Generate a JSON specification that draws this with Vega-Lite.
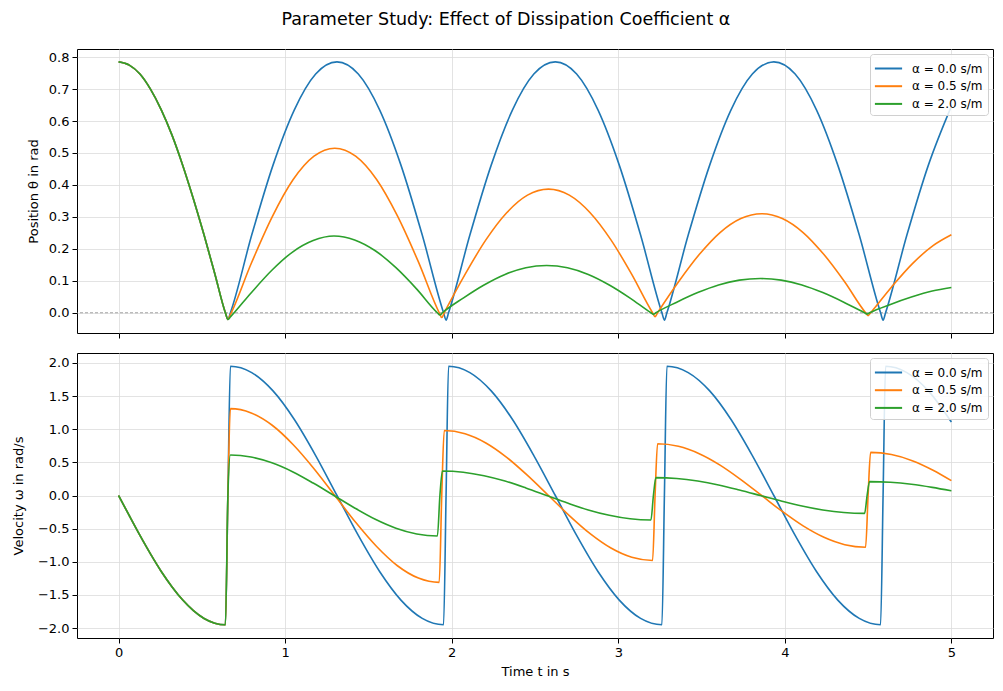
{
  "$schema": "https://vega.github.io/schema/vega-lite/v6.json",
  "title": {"text": "Parameter Study: Effect of Dissipation Coefficient α", "dx": 3},
  "padding": {"left": 11, "top": 11, "right": 6, "bottom": 6},
  "data": {"values": [
    {"a":"0.0","t":0,"th":0.785,"w":0},{"a":"0.0","t":0.064,"th":0.775,"w":-0.305},{"a":"0.0","t":0.128,"th":0.747,"w":-0.603},{"a":"0.0","t":0.192,"th":0.699,"w":-0.885},{"a":"0.0","t":0.256,"th":0.635,"w":-1.146},{"a":"0.0","t":0.321,"th":0.555,"w":-1.379},{"a":"0.0","t":0.385,"th":0.461,"w":-1.578},{"a":"0.0","t":0.449,"th":0.356,"w":-1.737},{"a":"0.0","t":0.513,"th":0.243,"w":-1.855},{"a":"0.0","t":0.577,"th":0.123,"w":-1.926},{"a":"0.0","t":0.641,"th":0,"w":-1.95},{"a":"0.0","t":0.656,"th":-0.021,"w":0},
    {"a":"0.0","t":0.671,"th":0,"w":1.95},{"a":"0.0","t":0.799,"th":0.243,"w":1.854},{"a":"0.0","t":0.927,"th":0.462,"w":1.578},{"a":"0.0","t":1.055,"th":0.635,"w":1.147},{"a":"0.0","t":1.183,"th":0.747,"w":0.603},{"a":"0.0","t":1.311,"th":0.785,"w":0},{"a":"0.0","t":1.439,"th":0.747,"w":-0.603},{"a":"0.0","t":1.567,"th":0.635,"w":-1.147},{"a":"0.0","t":1.695,"th":0.462,"w":-1.578},{"a":"0.0","t":1.823,"th":0.243,"w":-1.854},{"a":"0.0","t":1.951,"th":0,"w":-1.95},{"a":"0.0","t":1.966,"th":-0.023,"w":0},
    {"a":"0.0","t":1.981,"th":0,"w":1.95},{"a":"0.0","t":2.109,"th":0.243,"w":1.854},{"a":"0.0","t":2.237,"th":0.462,"w":1.578},{"a":"0.0","t":2.365,"th":0.635,"w":1.147},{"a":"0.0","t":2.493,"th":0.747,"w":0.603},{"a":"0.0","t":2.622,"th":0.785,"w":0},{"a":"0.0","t":2.75,"th":0.747,"w":-0.603},{"a":"0.0","t":2.878,"th":0.635,"w":-1.147},{"a":"0.0","t":3.006,"th":0.462,"w":-1.578},{"a":"0.0","t":3.134,"th":0.243,"w":-1.854},{"a":"0.0","t":3.262,"th":0,"w":-1.95},{"a":"0.0","t":3.277,"th":-0.023,"w":0},
    {"a":"0.0","t":3.292,"th":0,"w":1.95},{"a":"0.0","t":3.42,"th":0.243,"w":1.854},{"a":"0.0","t":3.549,"th":0.462,"w":1.578},{"a":"0.0","t":3.677,"th":0.635,"w":1.147},{"a":"0.0","t":3.805,"th":0.747,"w":0.603},{"a":"0.0","t":3.934,"th":0.785,"w":0},{"a":"0.0","t":4.062,"th":0.747,"w":-0.603},{"a":"0.0","t":4.19,"th":0.635,"w":-1.147},{"a":"0.0","t":4.318,"th":0.462,"w":-1.578},{"a":"0.0","t":4.447,"th":0.243,"w":-1.854},{"a":"0.0","t":4.575,"th":0,"w":-1.95},{"a":"0.0","t":4.59,"th":-0.023,"w":0},
    {"a":"0.0","t":4.605,"th":0,"w":1.95},{"a":"0.0","t":4.733,"th":0.243,"w":1.854},{"a":"0.0","t":4.862,"th":0.462,"w":1.578},{"a":"0.0","t":5.0,"th":0.646,"w":1.108},

    {"a":"0.5","t":0,"th":0.785,"w":0},{"a":"0.5","t":0.064,"th":0.775,"w":-0.305},{"a":"0.5","t":0.128,"th":0.747,"w":-0.603},{"a":"0.5","t":0.192,"th":0.699,"w":-0.885},{"a":"0.5","t":0.256,"th":0.635,"w":-1.146},{"a":"0.5","t":0.321,"th":0.555,"w":-1.379},{"a":"0.5","t":0.385,"th":0.461,"w":-1.578},{"a":"0.5","t":0.449,"th":0.356,"w":-1.737},{"a":"0.5","t":0.513,"th":0.243,"w":-1.855},{"a":"0.5","t":0.577,"th":0.123,"w":-1.926},{"a":"0.5","t":0.641,"th":0,"w":-1.95},{"a":"0.5","t":0.656,"th":-0.021,"w":0},
    {"a":"0.5","t":0.671,"th":-0.006,"w":1.31},{"a":"0.5","t":0.796,"th":0.154,"w":1.246},{"a":"0.5","t":0.922,"th":0.3,"w":1.06},{"a":"0.5","t":1.047,"th":0.416,"w":0.77},{"a":"0.5","t":1.173,"th":0.49,"w":0.405},{"a":"0.5","t":1.298,"th":0.515,"w":0},{"a":"0.5","t":1.423,"th":0.49,"w":-0.405},{"a":"0.5","t":1.549,"th":0.417,"w":-0.77},{"a":"0.5","t":1.674,"th":0.303,"w":-1.06},{"a":"0.5","t":1.8,"th":0.159,"w":-1.246},{"a":"0.5","t":1.925,"th":0,"w":-1.31},{"a":"0.5","t":1.94,"th":-0.015,"w":0},
    {"a":"0.5","t":1.955,"th":0,"w":0.98},{"a":"0.5","t":2.08,"th":0.12,"w":0.932},{"a":"0.5","t":2.205,"th":0.228,"w":0.793},{"a":"0.5","t":2.33,"th":0.313,"w":0.576},{"a":"0.5","t":2.455,"th":0.368,"w":0.303},{"a":"0.5","t":2.581,"th":0.387,"w":0},{"a":"0.5","t":2.706,"th":0.368,"w":-0.303},{"a":"0.5","t":2.831,"th":0.313,"w":-0.576},{"a":"0.5","t":2.956,"th":0.228,"w":-0.793},{"a":"0.5","t":3.081,"th":0.12,"w":-0.932},{"a":"0.5","t":3.206,"th":0,"w":-0.98},{"a":"0.5","t":3.221,"th":-0.012,"w":0},
    {"a":"0.5","t":3.236,"th":0,"w":0.78},{"a":"0.5","t":3.361,"th":0.096,"w":0.742},{"a":"0.5","t":3.486,"th":0.182,"w":0.631},{"a":"0.5","t":3.611,"th":0.251,"w":0.459},{"a":"0.5","t":3.736,"th":0.295,"w":0.241},{"a":"0.5","t":3.861,"th":0.31,"w":0},{"a":"0.5","t":3.985,"th":0.295,"w":-0.241},{"a":"0.5","t":4.11,"th":0.251,"w":-0.459},{"a":"0.5","t":4.235,"th":0.182,"w":-0.631},{"a":"0.5","t":4.36,"th":0.096,"w":-0.742},{"a":"0.5","t":4.485,"th":0,"w":-0.78},{"a":"0.5","t":4.5,"th":-0.009,"w":0},
    {"a":"0.5","t":4.515,"th":0,"w":0.65},{"a":"0.5","t":4.64,"th":0.08,"w":0.618},{"a":"0.5","t":4.765,"th":0.153,"w":0.526},{"a":"0.5","t":4.89,"th":0.21,"w":0.382},{"a":"0.5","t":5.0,"th":0.244,"w":0.224},

    {"a":"2.0","t":0,"th":0.785,"w":0},{"a":"2.0","t":0.064,"th":0.775,"w":-0.305},{"a":"2.0","t":0.128,"th":0.747,"w":-0.603},{"a":"2.0","t":0.192,"th":0.699,"w":-0.885},{"a":"2.0","t":0.256,"th":0.635,"w":-1.146},{"a":"2.0","t":0.321,"th":0.555,"w":-1.379},{"a":"2.0","t":0.385,"th":0.461,"w":-1.578},{"a":"2.0","t":0.449,"th":0.356,"w":-1.737},{"a":"2.0","t":0.513,"th":0.243,"w":-1.855},{"a":"2.0","t":0.577,"th":0.123,"w":-1.926},{"a":"2.0","t":0.641,"th":0,"w":-1.95},{"a":"2.0","t":0.656,"th":-0.021,"w":0},
    {"a":"2.0","t":0.671,"th":-0.013,"w":0.61},{"a":"2.0","t":0.795,"th":0.062,"w":0.58},{"a":"2.0","t":0.92,"th":0.133,"w":0.493},{"a":"2.0","t":1.044,"th":0.19,"w":0.359},{"a":"2.0","t":1.168,"th":0.226,"w":0.188},{"a":"2.0","t":1.293,"th":0.24,"w":0},{"a":"2.0","t":1.417,"th":0.228,"w":-0.188},{"a":"2.0","t":1.541,"th":0.194,"w":-0.359},{"a":"2.0","t":1.665,"th":0.141,"w":-0.493},{"a":"2.0","t":1.79,"th":0.074,"w":-0.58},{"a":"2.0","t":1.914,"th":0,"w":-0.61},{"a":"2.0","t":1.929,"th":-0.007,"w":0},
    {"a":"2.0","t":1.944,"th":0,"w":0.37},{"a":"2.0","t":2.069,"th":0.046,"w":0.352},{"a":"2.0","t":2.194,"th":0.087,"w":0.299},{"a":"2.0","t":2.32,"th":0.12,"w":0.218},{"a":"2.0","t":2.445,"th":0.141,"w":0.114},{"a":"2.0","t":2.57,"th":0.148,"w":0},{"a":"2.0","t":2.695,"th":0.141,"w":-0.114},{"a":"2.0","t":2.82,"th":0.12,"w":-0.218},{"a":"2.0","t":2.946,"th":0.087,"w":-0.299},{"a":"2.0","t":3.071,"th":0.046,"w":-0.352},{"a":"2.0","t":3.196,"th":0,"w":-0.37},{"a":"2.0","t":3.211,"th":-0.005,"w":0},
    {"a":"2.0","t":3.226,"th":0,"w":0.27},{"a":"2.0","t":3.351,"th":0.033,"w":0.257},{"a":"2.0","t":3.477,"th":0.063,"w":0.218},{"a":"2.0","t":3.602,"th":0.087,"w":0.159},{"a":"2.0","t":3.727,"th":0.102,"w":0.083},{"a":"2.0","t":3.853,"th":0.107,"w":0},{"a":"2.0","t":3.978,"th":0.102,"w":-0.083},{"a":"2.0","t":4.103,"th":0.087,"w":-0.159},{"a":"2.0","t":4.228,"th":0.063,"w":-0.218},{"a":"2.0","t":4.354,"th":0.033,"w":-0.257},{"a":"2.0","t":4.479,"th":0,"w":-0.27},{"a":"2.0","t":4.494,"th":-0.004,"w":0},
    {"a":"2.0","t":4.509,"th":0,"w":0.21},{"a":"2.0","t":4.634,"th":0.026,"w":0.2},{"a":"2.0","t":4.76,"th":0.049,"w":0.17},{"a":"2.0","t":4.885,"th":0.068,"w":0.123},{"a":"2.0","t":5.0,"th":0.079,"w":0.07}
  ]},
  "vconcat": [
    {
      "width": 916,
      "height": 284,
      "layer": [
        {
          "data": {"values": [{}]},
          "mark": {"type": "rule", "color": "#808080", "strokeWidth": 0.7, "strokeDash": [3, 2]},
          "encoding": {
            "y": {"datum": 0, "type": "quantitative", "scale": {"domain": [-0.0634, 0.8254], "nice": false, "zero": false}, "axis": {"values": [0, 0.1, 0.2, 0.3, 0.4, 0.5, 0.6, 0.7, 0.8], "format": ".1f", "title": "Position θ in rad", "labelOverlap": false}}
          }
        },
        {
          "mark": {"type": "line", "interpolate": "monotone", "strokeWidth": 1.6},
          "encoding": {
            "x": {"field": "t", "type": "quantitative", "scale": {"domain": [-0.25, 5.25], "nice": false, "zero": false}, "axis": {"values": [0, 1, 2, 3, 4, 5], "labels": false, "title": null}},
            "y": {"field": "th", "type": "quantitative", "scale": {"domain": [-0.0634, 0.8254], "nice": false, "zero": false}, "axis": {"values": [0, 0.1, 0.2, 0.3, 0.4, 0.5, 0.6, 0.7, 0.8], "format": ".1f", "title": "Position θ in rad", "labelOverlap": false}},
            "color": {"field": "a", "type": "nominal", "sort": null, "scale": {"domain": ["0.0", "0.5", "2.0"], "range": ["#1f77b4", "#ff7f0e", "#2ca02c"]}, "legend": {"title": null, "labelExpr": "'α = ' + datum.label + ' s/m'"}}
          }
        }
      ]
    },
    {
      "width": 916,
      "height": 285,
      "mark": {"type": "line", "interpolate": "monotone", "strokeWidth": 1.6},
      "encoding": {
        "x": {"field": "t", "type": "quantitative", "scale": {"domain": [-0.25, 5.25], "nice": false, "zero": false}, "axis": {"values": [0, 1, 2, 3, 4, 5], "format": "d", "title": "Time t in s"}},
        "y": {"field": "w", "type": "quantitative", "scale": {"domain": [-2.15, 2.15], "nice": false, "zero": false}, "axis": {"values": [-2, -1.5, -1, -0.5, 0, 0.5, 1, 1.5, 2], "format": ".1f", "title": "Velocity ω in rad/s", "titlePadding": 12, "labelOverlap": false}},
        "color": {"field": "a", "type": "nominal", "sort": null, "scale": {"domain": ["0.0", "0.5", "2.0"], "range": ["#1f77b4", "#ff7f0e", "#2ca02c"]}, "legend": {"title": null, "labelExpr": "'α = ' + datum.label + ' s/m'"}}
      }
    }
  ],
  "spacing": 20,
  "bounds": "flush",
  "resolve": {"scale": {"y": "independent", "color": "independent"}, "legend": {"color": "independent"}},
  "config": {
    "font": "DejaVu Sans",
    "background": "white",
    "view": {"stroke": "black", "strokeWidth": 1},
    "title": {"fontSize": 17.5, "fontWeight": "normal", "font": "DejaVu Sans", "color": "black", "anchor": "middle", "offset": 20},
    "axis": {
      "domain": false,
      "grid": true,
      "gridColor": "#dcdcdc",
      "gridWidth": 0.8,
      "ticks": true,
      "tickColor": "black",
      "tickSize": 5,
      "tickWidth": 1,
      "labelFont": "DejaVu Sans",
      "labelFontSize": 13,
      "labelColor": "black",
      "labelPadding": 3,
      "titleFont": "DejaVu Sans",
      "titleFontSize": 13,
      "titleFontWeight": "normal",
      "titleColor": "black"
    },
    "axisX": {"titlePadding": 6},
    "axisY": {"titlePadding": 8},
    "legend": {
      "orient": "top-right",
      "offset": 5,
      "symbolType": "M-1.6,0H1.6",
      "symbolSize": 289,
      "symbolStrokeWidth": 2,
      "symbolOffset": 4,
      "labelFont": "DejaVu Sans",
      "labelFontSize": 12,
      "labelColor": "black",
      "labelOffset": 14,
      "labelLimit": 200,
      "strokeColor": "#d0d0d0",
      "fillColor": "rgba(255,255,255,0.85)",
      "cornerRadius": 3,
      "padding": 5,
      "rowPadding": 1.7
    }
  }
}
